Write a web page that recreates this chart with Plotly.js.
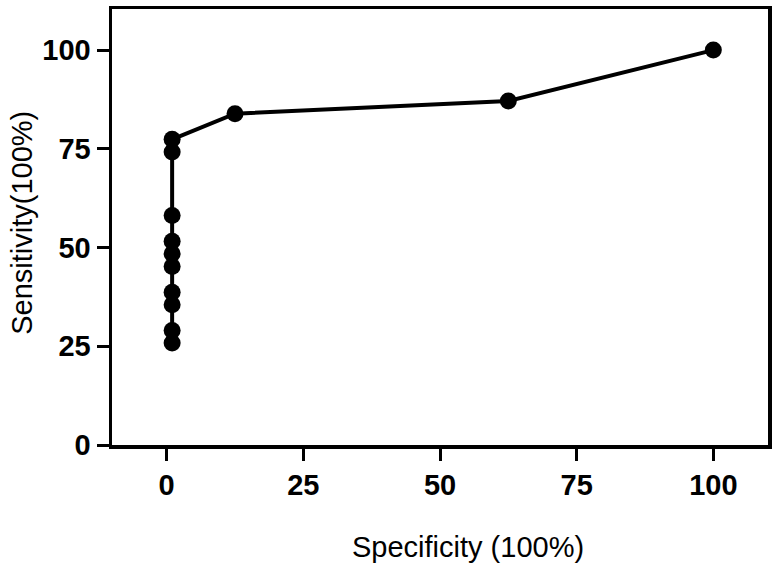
<!DOCTYPE html>
<html>
<head>
<meta charset="utf-8">
<script src="https://cdn.plot.ly/plotly-3.0.1.min.js"></script>
<style>
  html, body { margin: 0; padding: 0; background: #fff; }
  #chart { width: 780px; height: 566px; }
</style>
</head>
<body>
<div id="chart"></div>
<script>
// ROC points
var specificity = [1, 1, 1, 1, 1, 1, 1, 1, 1, 1, 12.5, 62.5, 100];
var sensitivity = [25.8, 29.0, 35.5, 38.7, 45.2, 48.4, 51.6, 58.1, 74.2, 77.4, 83.9, 87.1, 100];

var tickVals = [0, 25, 50, 75, 100];
var tickText = ['0', '25', '50', '75', '100'];

var trace = {
    x: specificity,
    y: sensitivity,
    mode: 'lines+markers',
    type: 'scatter',
    line: {color: '#000', width: 4},
    marker: {color: '#000', size: 17},
    cliponaxis: false,
    showlegend: false
};

var axisStyle = {
    showline: true,
    mirror: true,
    linecolor: '#000',
    linewidth: 3.5,
    showgrid: false,
    zeroline: false,
    ticks: 'outside',
    ticklen: 12,
    tickwidth: 3,
    tickcolor: '#000',
    tickvals: tickVals,
    ticktext: tickText,
    tickfont: {family: 'Liberation Sans, Arial, sans-serif', size: 29, color: '#000', weight: 'bold'}
};

var layout = {
    width: 780,
    height: 566,
    margin: {l: 112, r: 12, t: 9, b: 121},
    paper_bgcolor: '#fff',
    plot_bgcolor: '#fff',
    xaxis: Object.assign({}, axisStyle, {range: [-10, 110]}),
    yaxis: Object.assign({}, axisStyle, {range: [0, 110.4]}),
    annotations: [
        {
            text: 'Specificity (100%)',
            xref: 'paper', yref: 'paper',
            x: 0.543, y: -0.235,
            xanchor: 'center', yanchor: 'middle',
            showarrow: false,
            font: {family: 'Liberation Sans, Arial, sans-serif', size: 29, color: '#000'}
        },
        {
            text: 'Sensitivity(100%)',
            xref: 'paper', yref: 'paper',
            x: -0.137, y: 0.51,
            xanchor: 'center', yanchor: 'middle',
            textangle: -90,
            showarrow: false,
            font: {family: 'Liberation Sans, Arial, sans-serif', size: 29, color: '#000'}
        }
    ]
};

Plotly.newPlot('chart', [trace], layout, {displayModeBar: false, staticPlot: true});
</script>
</body>
</html>
